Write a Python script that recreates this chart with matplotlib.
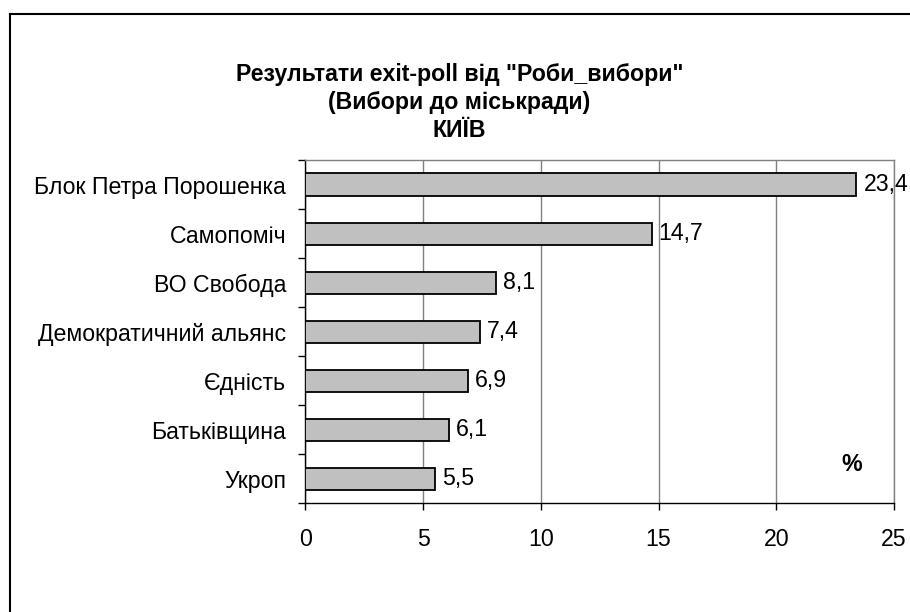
import matplotlib.pyplot as plt
from matplotlib.lines import Line2D
import numpy as np

plt.rcParams['font.family'] = ['Liberation Sans', 'DejaVu Sans']

# Data
parties = ["Блок Петра Порошенка", "Самопоміч", "ВО Свобода",
           "Демократичний альянс", "Єдність", "Батьківщина", "Укроп"]
values = [23.4, 14.7, 8.1, 7.4, 6.9, 6.1, 5.5]
labels = ["23,4", "14,7", "8,1", "7,4", "6,9", "6,1", "5,5"]
xticks = [0, 5, 10, 15, 20, 25]

FS = 16.7

fig = plt.figure(figsize=(9.1, 6.12), dpi=100)
ax = fig.add_axes([0.3357, 0.1773, 0.6467, 0.5613])

y = np.arange(len(parties))[::-1]
ax.barh(y, values, height=0.45, color="#C0C0C0", edgecolor="black",
        linewidth=1.3, zorder=3)

for yi, v, lab in zip(y, values, labels):
    ax.text(v + 0.3, yi, lab, va="center", ha="left", fontsize=FS, zorder=4)

ax.set_xlim(0, 25)
ax.set_ylim(-0.5, len(parties) - 0.5)
ax.set_xticks(xticks)
ax.set_xticklabels([str(t) for t in xticks], fontsize=FS)
ax.set_yticks(y)
ax.set_yticklabels(parties, fontsize=FS)
ax.set_yticks(np.arange(len(parties) + 1) - 0.5, minor=True)

ax.tick_params(axis="y", which="major", length=0, pad=14)
ax.tick_params(axis="y", which="minor", length=5, width=1, direction="out", color="black")
ax.tick_params(axis="x", which="major", length=5, width=1, direction="out", pad=13)

ax.grid(axis="x", color="#808080", linewidth=1, zorder=0)
ax.spines["top"].set_color("#808080")
ax.spines["right"].set_color("#808080")
ax.spines["left"].set_color("black")
ax.spines["bottom"].set_color("black")
for s in ax.spines.values():
    s.set_linewidth(1)

ax.text(23.2, 0.3, "%", fontsize=FS, fontweight="bold", ha="center", va="center")

fig.text(0.505, 0.879, 'Результати exit-poll від "Роби_вибори"', ha="center",
         va="center", fontsize=FS, fontweight="bold")
fig.text(0.505, 0.832, "(Вибори до міськради)", ha="center", va="center",
         fontsize=FS, fontweight="bold")
fig.text(0.505, 0.786, "КИЇВ", ha="center", va="center", fontsize=FS,
         fontweight="bold")

# outer chart frame (only top and left edges are visible)
fig.add_artist(Line2D([0.011, 1.0], [0.977, 0.977], transform=fig.transFigure,
                      color="black", linewidth=1.5))
fig.add_artist(Line2D([0.011, 0.011], [0.0, 0.977], transform=fig.transFigure,
                      color="black", linewidth=1.5))

fig.savefig("out.png", dpi=100)
